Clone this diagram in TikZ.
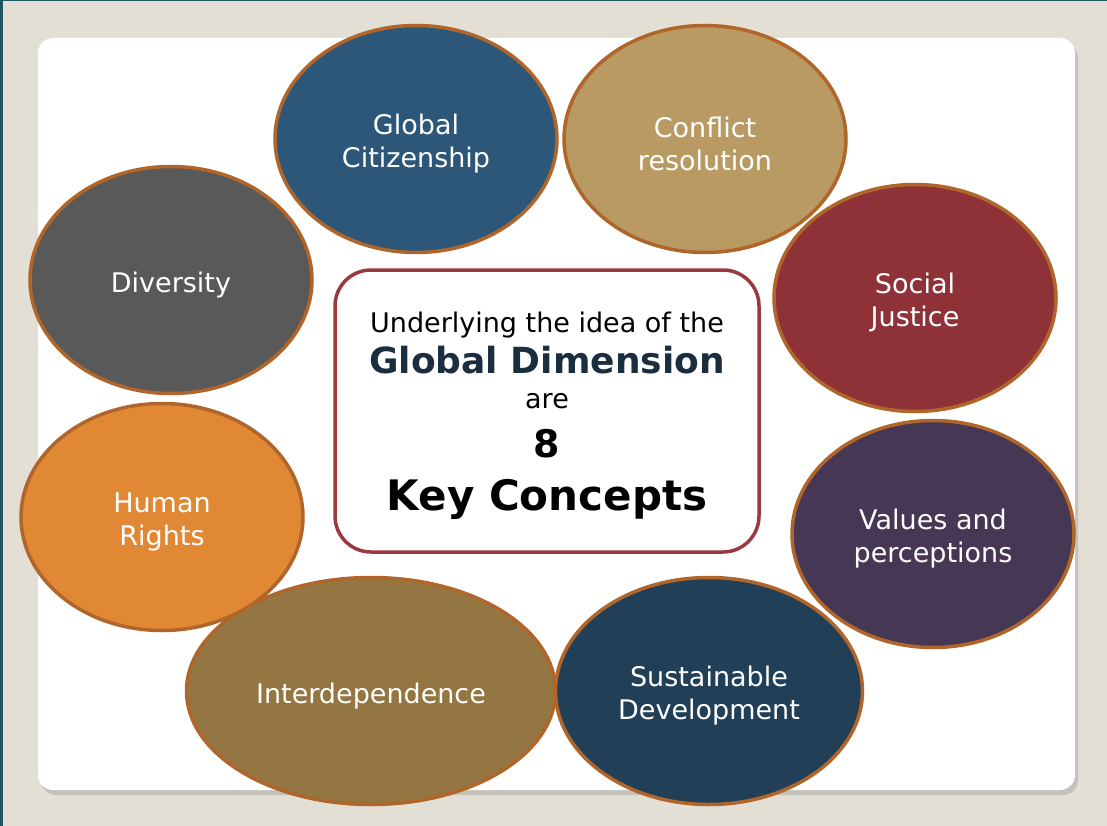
\documentclass[tikz,border=0pt]{standalone}
\usepackage{fontspec}
\setmainfont{DejaVu Sans}
\usetikzlibrary{shapes.geometric, shadows}

\definecolor{bgbeige}{HTML}{E3DFD5}
\definecolor{edgeteal}{HTML}{1F5560}
\definecolor{ringbrown}{HTML}{B0652A}
\definecolor{boxred}{HTML}{9A3A40}
\definecolor{titleblue}{HTML}{1A2E40}
\definecolor{cCitizen}{HTML}{2C5779}
\definecolor{cConflict}{HTML}{B89A62}
\definecolor{cJustice}{HTML}{8E3238}
\definecolor{cValues}{HTML}{463754}
\definecolor{cSustain}{HTML}{223F58}
\definecolor{cInterdep}{HTML}{937641}
\definecolor{cRights}{HTML}{E08834}
\definecolor{cDiversity}{HTML}{595959}

% pushes the first line of a concept down a little
\newcommand{\cstrut}{\rule{0pt}{1.1em}}

\begin{document}
\begin{tikzpicture}[
      x = 1pt, y = -1pt,           % pixel like coordinates, y going down
      font = \fontsize{27}{33}\selectfont
    ]

    \tikzstyle{C1}=[      % Defines style for the concept ellipses
      ellipse,
      draw = ringbrown,
      line width = 3.5pt,
      text = white,
      align = center,
      inner sep = 0pt,
      minimum width = 282pt,
      minimum height = 227pt
    ]

    \tikzstyle{B1}=[      % Defines style for the middle box
      rectangle,
      rounded corners = 36pt,
      draw = boxred,
      line width = 3.5pt,
      fill = white,
      minimum width = 424pt,
      minimum height = 282pt
    ]

    \tikzstyle{L1}=[      % Defines style for a line of the middle box
      anchor = base,
      inner sep = 0pt
    ]

    % Background and white panel
    \fill[bgbeige] (0,0) rectangle (1107,826);
    \useasboundingbox (0,0) rectangle (1107,826);
    \fill[edgeteal] (0,0) rectangle (3,826);
    \fill[edgeteal] (0,0) rectangle (1107,1);
    \fill[white, rounded corners = 15pt,
      drop shadow = {shadow xshift = 3pt, shadow yshift = -5pt, opacity = 0.3}]
      (38,38) rectangle (1075,790);

    % Definition of the nodes
    \node[C1, fill = cCitizen] (citizen) at (416,139) {\cstrut Global\\Citizenship};
    \node[C1, fill = cConflict] (conflict) at (705,139) {\cstrut Conflict\\resolution};
    \node[C1, fill = cJustice] (justice) at (915,298) {\cstrut Social\\Justice};
    \node[C1, fill = cValues] (values) at (933,534) {\cstrut Values and\\perceptions};
    \node[C1, fill = cInterdep, minimum width = 369pt] (interdep) at (371,691) {\cstrut Interdependence};
    \node[C1, fill = cSustain, minimum width = 307pt] (sustain) at (709,691) {\cstrut Sustainable\\Development};
    \node[C1, fill = cRights] (rights) at (162,517) {\cstrut Human\\Rights};
    \node[C1, fill = cDiversity] (diversity) at (171,280) {\cstrut Diversity};

    % Middle box and its lines
    \node[B1] (core) at (547,411) {};
    \node[L1, font = \fontsize{27}{30}\selectfont] (under) at (547,332) {Underlying the idea of the};
    \node[L1, font = \fontsize{36}{40}\selectfont\bfseries, text = titleblue] (dimension) at (547,373) {Global Dimension};
    \node[L1, font = \fontsize{27}{30}\selectfont] (are) at (547,408) {are};
    \node[L1, font = \fontsize{38}{42}\selectfont\bfseries] (eight) at (547,457) {8};
    \node[L1, font = \fontsize{42}{46}\selectfont\bfseries] (concepts) at (547,510) {Key Concepts};

  \end{tikzpicture}
\end{document}
